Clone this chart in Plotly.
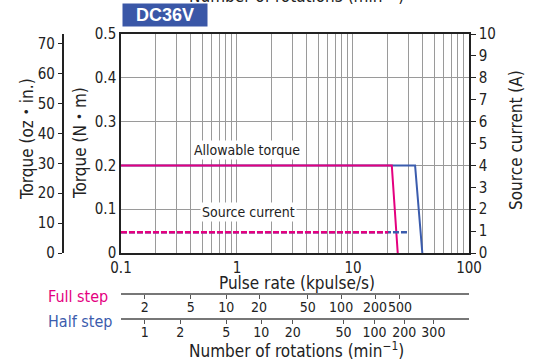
import numpy as np
import plotly.graph_objects as go

# pulse rate (kpulse/s) vs torque (N·m) and source current (A)
full_torque_x = [0.1, 21.6, 24.3]
full_torque_y = [0.2, 0.2, 0.0]
half_torque_x = [0.1, 34.3, 39.6]
half_torque_y = [0.2, 0.2, 0.0]

full_current_x = [0.1, 20.1]
full_current_y = [0.95, 0.95]
half_current_x = [0.1, 29.8]
half_current_y = [0.95, 0.95]

# bottom scales: rotation labels and where they sit on the pulse-rate scale
full_step_labels = ["2", "5", "10", "20", "50", "100", "200", "500"]
full_step_at = [0.16, 0.40, 0.81, 1.55, 4.08, 7.9, 15.5, 25.4]
half_step_labels = ["1", "2", "5", "10", "20", "50", "100", "200", "300"]
half_step_at = [0.16, 0.324, 0.81, 1.62, 3.03, 8.27, 15.3, 27.7, 49.3]

pulse_labels = ["0.1", "1", "10", "100"]

MAGENTA = "#e4007f"
BLUE = "#3b5cad"
FONT = "Liberation Sans Narrow, DejaVu Sans Condensed, Arial Narrow, Noto Sans CJK JP, sans-serif"

# gridlines at every 1..9 step of each decade, labels only at decades
grid_vals = []
grid_text = []
for i, dec in enumerate([0.1, 1, 10]):
    for k in range(1, 10):
        grid_vals.append(round(k * dec, 4))
        grid_text.append(pulse_labels[i] if k == 1 else "")
grid_vals.append(100)
grid_text.append(pulse_labels[3])

fig = go.Figure()

fig.add_trace(go.Scatter(x=half_current_x, y=half_current_y, yaxis="y2", mode="lines",
                         line=dict(color=BLUE, width=2.5, dash="6px,2px")))
fig.add_trace(go.Scatter(x=full_current_x, y=full_current_y, yaxis="y2", mode="lines",
                         line=dict(color=MAGENTA, width=2.5, dash="6px,2px")))
fig.add_trace(go.Scatter(x=half_torque_x, y=half_torque_y, mode="lines",
                         line=dict(color=BLUE, width=2)))
fig.add_trace(go.Scatter(x=full_torque_x, y=full_torque_y, mode="lines",
                         line=dict(color=MAGENTA, width=2)))
# empty traces so the extra axes get drawn
fig.add_trace(go.Scatter(x=[], y=[], yaxis="y3"))
fig.add_trace(go.Scatter(x=[], y=[], xaxis="x2"))
fig.add_trace(go.Scatter(x=[], y=[], xaxis="x3"))

axis_line = "#222222"
grid = "#9a9a9a"
tick_font = dict(family=FONT, size=15, color="#222222")
rot_font = dict(family=FONT, size=14, color="#222222")

fig.update_layout(
    width=536, height=362,
    margin=dict(l=20, r=67, t=34, b=0, pad=0, autoexpand=False),
    plot_bgcolor="white", paper_bgcolor="white",
    showlegend=False,
    font=dict(family=FONT, size=15, color="#222222"),
    xaxis=dict(type="log", range=[-1, 2], domain=[0.2249, 1], automargin=False,
               tickvals=grid_vals, ticktext=grid_text, ticks="", tickangle=0,
               showgrid=True, gridcolor=grid, gridwidth=1,
               showline=True, linecolor=axis_line, linewidth=1.5, mirror=True,
               zeroline=False, tickfont=tick_font),
    yaxis=dict(range=[0, 0.5], dtick=0.1, domain=[0.3323, 1], automargin=False,
               showgrid=True, gridcolor=grid, gridwidth=1,
               showline=True, linecolor=axis_line, linewidth=1.5,
               ticks="", zeroline=False, tickfont=tick_font),
    yaxis2=dict(range=[0, 10], dtick=1, overlaying="y", side="right", anchor="x",
                automargin=False, showgrid=False, showline=True, linecolor=axis_line,
                linewidth=1.5, ticks="outside", ticklen=5, tickcolor=axis_line,
                zeroline=False, tickfont=tick_font),
    yaxis3=dict(range=[0, 73.2], dtick=10, overlaying="y", side="left", anchor="free",
                position=0.0951, automargin=False, showgrid=False, showline=True,
                linecolor=axis_line, linewidth=1.5, ticks="outside", ticklen=4,
                tickcolor=axis_line, zeroline=False, tickfont=tick_font),
    xaxis2=dict(type="log", range=[-1, 2], overlaying="x", anchor="free", position=0.2073,
                side="bottom", automargin=False, tickangle=0, ticklabelstandoff=-4,
                tickvals=full_step_at, ticktext=full_step_labels,
                showgrid=False, showline=True, linecolor="#777777", linewidth=2,
                ticks="outside", ticklen=4, tickcolor="#555555", tickfont=rot_font),
    xaxis3=dict(type="log", range=[-1, 2], overlaying="x", anchor="free", position=0.1311,
                side="bottom", automargin=False, tickangle=0, ticklabelstandoff=-4,
                tickvals=half_step_at, ticktext=half_step_labels,
                showgrid=False, showline=True, linecolor="#777777", linewidth=2,
                ticks="outside", ticklen=4, tickcolor="#555555", tickfont=rot_font),
)

ann = [
    dict(text="Allowable torque", xref="x", yref="y", x=np.log10(1.22), y=0.236,
         bgcolor="white", font=dict(size=14), borderpad=1),
    dict(text="Source current", xref="x", yref="y", x=np.log10(1.25), y=0.094,
         bgcolor="white", font=dict(size=14), borderpad=1),
    dict(text="Torque (N・m)", xref="paper", yref="paper", x=0.1336, y=0.6677,
         textangle=-90, font=dict(size=17)),
    dict(text="Torque (oz・in.)", xref="paper", yref="paper", x=0.0156, y=0.68,
         textangle=-90, font=dict(size=17)),
    dict(text="Source current (A)", xref="paper", yref="paper", x=1.1047, y=0.677,
         textangle=-90, font=dict(size=17)),
    dict(text="Pulse rate (kpulse/s)", xref="paper", yref="paper", x=0.6169, y=0.2409,
         font=dict(size=17)),
    dict(text="Full step", xref="paper", yref="paper", x=0.129, y=0.199,
         font=dict(size=16, color=MAGENTA)),
    dict(text="Half step", xref="paper", yref="paper", x=0.1336, y=0.1229,
         font=dict(size=16, color=BLUE)),
    dict(text="Number of rotations (min<sup>−1</sup>)", xref="paper", yref="paper",
         x=0.615, y=0.0366, font=dict(size=17)),
    dict(text="Number of rotations (min<sup>−1</sup>)", xref="paper", yref="paper",
         x=0.615, y=1.12, font=dict(size=17)),
    dict(text="<b>DC36V</b>", xref="paper", yref="paper", x=0.323, y=1.058,
         bgcolor="#3a57a7", font=dict(size=18, color="white", family="Liberation Sans, Arial, sans-serif"),
         width=80, height=18, borderpad=2),
]
for a in ann:
    a.setdefault("showarrow", False)
    a.setdefault("xanchor", "center")
    a.setdefault("yanchor", "middle")
    fig.add_annotation(**a)

# page body has an 8px default margin; drop it so the figure sits at the window corner
fig.write_html("out.html", config={"displayModeBar": False},
               post_script="document.body.style.margin='0px';")
